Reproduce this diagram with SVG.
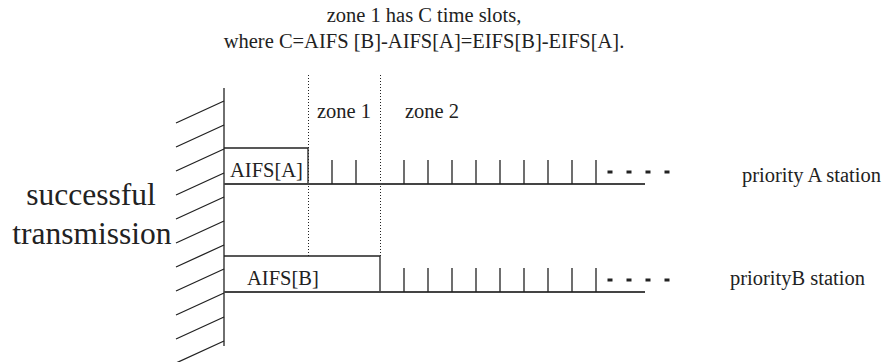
<svg xmlns="http://www.w3.org/2000/svg" width="891" height="362" viewBox="0 0 891 362">
<style>
text{font-family:"Liberation Serif","Times New Roman",serif;fill:#222;font-size:20.5px}
.ln{stroke:#222;stroke-width:1.3;fill:none}
.base{stroke:#444;stroke-width:1.8;fill:none}
.dot{stroke:#222;stroke-width:1;stroke-dasharray:1 2;fill:none}
.dash{stroke:#222;stroke-width:3;stroke-dasharray:5 14;fill:none}
</style>
<rect width="891" height="362" fill="#fff"/>
<g id="title">
<text x="424" y="22" text-anchor="middle">zone 1 has C time slots,</text>
<text x="424" y="48" text-anchor="middle">where C=AIFS [B]-AIFS[A]=EIFS[B]-EIFS[A].</text>
</g>
<g id="wall">
<line class="ln" x1="224" y1="88" x2="224" y2="346"/>
<path class="ln" d="M176 123L224 101M176 147L224 125M176 171L224 149M176 195L224 173M176 219L224 197M176 243L224 221M176 267L224 245M176 291L224 269M176 315L224 293M176 339L224 317M176 363L224 341"/>
<text x="91" y="205" text-anchor="middle" style="font-size:31.5px">successful</text>
<text x="92" y="244" text-anchor="middle" style="font-size:31.5px">transmission</text>
</g>
<g id="zones">
<line class="dot" x1="308.5" y1="75" x2="308.5" y2="256"/>
<line class="dot" x1="380.5" y1="75" x2="380.5" y2="256"/>
<text x="317" y="118">zone 1</text>
<text x="405" y="118">zone 2</text>
</g>
<g id="stationA">
<path class="ln" d="M224 148H308V184"/>
<line class="base" x1="224" y1="184" x2="645" y2="184"/>
<text x="230" y="177">AIFS[A]</text>
<path class="ln" d="M332 160V184M356 160V184M404 160V184M428 160V184M452 160V184M476 160V184M500 160V184M524 160V184M548 160V184M572 160V184M596 160V184"/>
<line class="dash" x1="607.5" y1="172" x2="672" y2="172"/>
<text x="742" y="182">priority A station</text>
</g>
<g id="stationB">
<path class="ln" d="M224 256H380V292"/>
<line class="base" x1="224" y1="292" x2="645" y2="292"/>
<text x="247" y="285">AIFS[B]</text>
<path class="ln" d="M404 268V292M428 268V292M452 268V292M476 268V292M500 268V292M524 268V292M548 268V292M572 268V292M596 268V292"/>
<line class="dash" x1="607.5" y1="280" x2="672" y2="280"/>
<text x="730" y="285">priorityB station</text>
</g>
</svg>
